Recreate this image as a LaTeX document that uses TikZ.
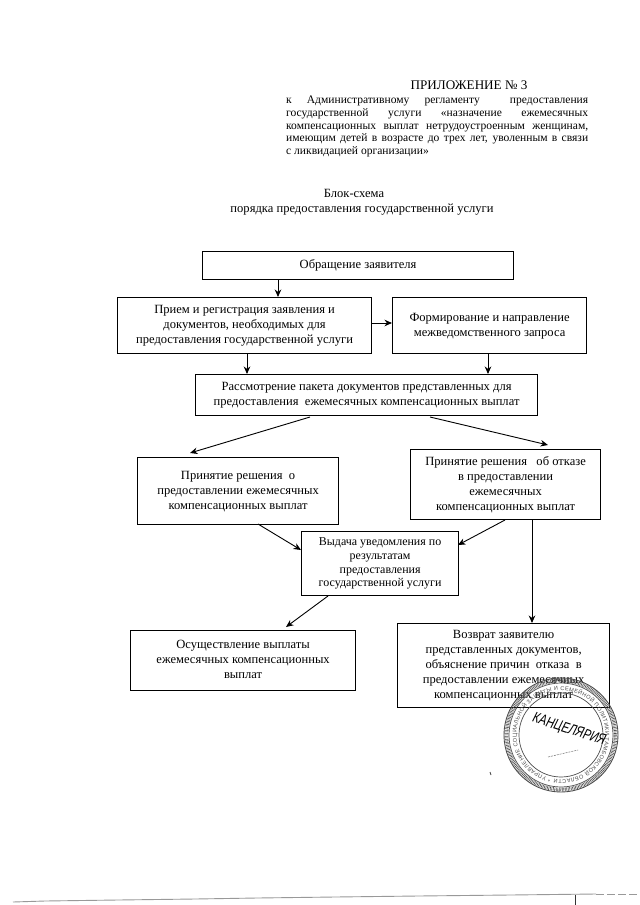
\documentclass[tikz,border=0pt]{standalone}
\usepackage{fontspec}
\setmainfont{Liberation Serif}
\setsansfont{Liberation Sans}
\usetikzlibrary{arrows.meta,decorations.text}
\tikzset{
  x=1bp,y=-1bp,
  flowbox/.style={draw,line width=1.2bp,align=center,inner sep=0pt,font=\fontsize{12.6}{15}\selectfont,anchor=north west},
  flowarrow/.style={draw,line width=.9bp,-{Stealth[length=7.5bp,width=6.5bp]}},
  bodytext/.style={font=\fontsize{11.6}{12.7}\selectfont,align=justify,text width=302bp,inner sep=0pt},
  titletext/.style={font=\fontsize{12.6}{15}\selectfont,align=center,inner sep=0pt},
  stampring/.style={black!70},
  scanline/.style={black!40,line width=.9bp},
}
\newcommand{\liftlines}[2]{\raisebox{#1}{\begin{tabular}{@{}c@{}}#2\end{tabular}}}
\begin{document}
\begin{tikzpicture}
\useasboundingbox (0,0) rectangle (640,905);
\fill[white] (0,0) rectangle (640,905);
\node[titletext,font=\fontsize{13.2}{15}\selectfont] (app) at (469,85) {ПРИЛОЖЕНИЕ № 3};
\node[bodytext,anchor=north west] (reg) at (286,96) {к\hfill Административному\hfill регламенту\hfill\hfill предоставления государственной услуги «назначение ежемесячных компенсационных выплат нетрудоустроенным женщинам, имеющим детей в возрасте до трех лет, уволенным в связи\linebreak с ликвидацией организации»};
\node[titletext] (title) at (362,202) {Блок-схема\hspace*{16bp}\\порядка предоставления государственной услуги};
\node[flowbox,minimum width=311bp,minimum height=28bp] (b1) at (202,251) {\liftlines{1bp}{Обращение заявителя}};
\node[flowbox,minimum width=254bp,minimum height=56bp] (b2) at (117,297) {\liftlines{1bp}{Прием и регистрация заявления и\\документов, необходимых для\\предоставления государственной услуги}};
\node[flowbox,minimum width=194bp,minimum height=56bp] (b3) at (392,297) {\liftlines{10bp}{Формирование и направление\\межведомственного запроса}};
\node[flowbox,minimum width=342bp,minimum height=41bp] (b4) at (195,374) {Рассмотрение пакета документов представленных для\\предоставления\ \ ежемесячных компенсационных выплат};
\node[flowbox,minimum width=201bp,minimum height=67bp] (b5) at (137,457) {\liftlines{6bp}{Принятие решения\ \ о\\предоставлении ежемесячных\\компенсационных выплат}};
\node[flowbox,minimum width=190bp,minimum height=70bp] (b6) at (410,449) {Принятие решения\ \ \ об отказе\\в предоставлении\\ежемесячных\\компенсационных выплат};
\node[flowbox,minimum width=157bp,minimum height=64bp,font=\fontsize{12}{13.6}\selectfont] (b7) at (301,531) {Выдача уведомления по\\результатам\\предоставления\\государственной услуги};
\node[flowbox,minimum width=225bp,minimum height=60bp] (b8) at (130,630) {\liftlines{2bp}{Осуществление выплаты\\ежемесячных компенсационных\\выплат}};
\node[flowbox,minimum width=212bp,minimum height=84bp] (b9) at (397,623) {Возврат заявителю\\представленных документов,\\объяснение причин\ \ отказа\ \ в\\предоставлении ежемесячных\\компенсационных выплат};
\coordinate (p1) at (278,250);
\draw[flowarrow] (b1.south -| p1) -- (b2.north -| p1);
\coordinate (q1) at (300,323);
\draw[flowarrow] (b2.east |- q1) -- (b3.west |- q1);
\coordinate (p2) at (247,250);
\draw[flowarrow] (b2.south -| p2) -- (b4.north -| p2);
\coordinate (p3) at (488,250);
\draw[flowarrow] (b3.south -| p3) -- (b4.north -| p3);
\coordinate (s1) at (310,417); \coordinate (e1) at (190,453);
\draw[flowarrow] (s1) -- (e1);
\coordinate (s2) at (430,417); \coordinate (e2) at (548,445);
\draw[flowarrow] (s2) -- (e2);
\coordinate (s3) at (258,524); \coordinate (e3) at (301,550);
\draw[flowarrow] (s3) -- (e3);
\coordinate (s4) at (505,520); \coordinate (e4) at (458,545);
\draw[flowarrow] (s4) -- (e4);
\coordinate (s5) at (328,596); \coordinate (e5) at (286,627);
\draw[flowarrow] (s5) -- (e5);
\coordinate (p4) at (532,250);
\draw[flowarrow] (b6.south -| p4) -- (b9.north -| p4);
% stamp
\coordinate (st) at (561,735);
\draw[stampring,line width=.9bp] (st) circle (57);
\draw[stampring,line width=3.5bp,dash pattern=on .6bp off .9bp] (st) circle (54.5);
\draw[stampring,line width=.7bp] (st) circle (52);
\draw[stampring,line width=.7bp] (st) circle (42);
\path[decorate,decoration={text along path,text align={fit to path},
  text={|\fontsize{5.6}{7}\selectfont\sffamily\color{black!70}|* УПРАВЛЕНИЕ СОЦИАЛЬНОЙ ЗАЩИТЫ И СЕМЕЙНОЙ ПОЛИТИКИ ТАМБОВСКОЙ ОБЛАСТИ}}]
  (st) ++(257:44.5bp) arc[start angle=257,delta angle=-356,radius=44.5bp];
\node[rotate=-18,font=\fontsize{13}{13}\selectfont\sffamily\itshape,inner sep=0pt] (kanc) at (569,730) {\scalebox{.86}[1.15]{КАНЦЕЛЯРИЯ}};
\coordinate (sg0) at (548,757); \coordinate (sg1) at (578,750);
\draw[black!55,line width=.5bp,dash pattern=on 2bp off 1bp] (sg0) -- (sg1);
\coordinate (sp0) at (490,772); \coordinate (sp1) at (491,775);
\draw[black!70,line width=.8bp] (sp0) -- (sp1);
% bottom scan line
\coordinate (l0) at (13,902); \coordinate (l1) at (45,901);
\coordinate (l2) at (118,900); \coordinate (l3) at (195,899);
\coordinate (l4) at (257,898); \coordinate (l5) at (335,897);
\coordinate (l6) at (418,896); \coordinate (l7) at (510,895);
\coordinate (l8) at (596,894); \coordinate (l9) at (640,894);
\draw[scanline] (l0) -- (l1) (l1) -- (l2) (l2) -- (l3) (l3) -- (l4) (l4) -- (l5) (l5) -- (l6) (l6) -- (l7) (l7) -- (l8);
\draw[scanline,dash pattern=on 8bp off 3bp] (l8) -- (l9);
\coordinate (t0) at (575,895); \coordinate (t1) at (575,905);
\draw[black!80,line width=.6bp] (t0) -- (t1);
\end{tikzpicture}
\end{document}
